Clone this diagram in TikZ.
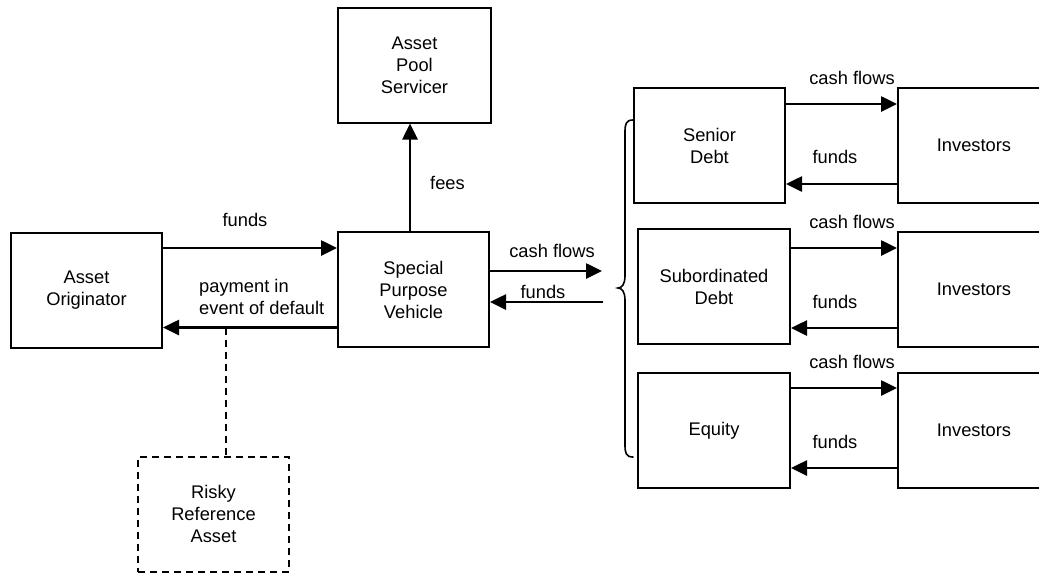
\documentclass[tikz,border=0pt]{standalone}
\usepackage{fontspec}
\setmainfont{Liberation Sans}
\usetikzlibrary{arrows.meta}
\begin{document}
\begin{tikzpicture}[x=1pt,y=-1pt,
  every node/.style={font=\fontsize{18.3}{22}\selectfont},
  box/.style={draw, line width=2pt, minimum width=151pt, minimum height=115pt, align=center, inner sep=0pt},
  dbox/.style={box, dash pattern=on 7pt off 5pt},
  arr/.style={line width=2.6pt, -{Triangle[length=16pt,width=15pt]}},
  lbl/.style={inner sep=0pt, align=center},
  brace/.style={line width=1.6pt, line cap=round}
]
\useasboundingbox (0,0) rectangle (1039,574);

% main boxes
\node[box] (ao)  at (86.5,290)  {Asset\\Originator};
\node[box] (spv) at (413.5,289.5) {Special\\Purpose\\Vehicle};
\node[box, minimum width=153pt] (srv) at (414.5,65) {Asset\\Pool\\Servicer};
\node[dbox] (rra) at (213.5,514) {Risky\\Reference\\Asset};

% tranches
\node[box] (sen) at (709.5,145.5) {Senior\\Debt};
\node[box, minimum width=152pt] (sub) at (714,286.5) {Subordinated\\Debt};
\node[box, minimum width=152pt] (eq)  at (714,430.5) {Equity};

% investors
\node[box, minimum width=152pt] (inv1) at (974,145.5) {Investors};
\node[box, minimum width=152pt] (inv2) at (974,289.5) {Investors};
\node[box, minimum width=152pt] (inv3) at (974,430.5) {Investors};

% originator <-> SPV
\path ([yshift=42pt]ao.east) coordinate (f1);
\draw[arr] (f1) -- (f1 -| spv.west);
\path ([yshift=-38pt]spv.west) coordinate (p1);
\draw[arr] (p1) -- (p1 -| ao.east);
\node[lbl] at (245,220) {funds};
\node[lbl, align=left, anchor=west] at (199,297) {payment in\\event of default};

% reference asset link
\path (p1 -| rra.north) ++(12.5,0) coordinate (d1);
\draw[line width=2pt, dash pattern=on 7pt off 5pt] (d1) -- ([xshift=12.5pt]rra.north);

% fees to servicer
\draw[arr] ([xshift=-3.5pt]spv.north) -- ([xshift=-3.5pt]spv.north |- srv.south);
\node[lbl, anchor=west] at (430,183) {fees};

% SPV <-> tranches
\coordinate (cf) at (602,271);
\coordinate (fd) at (603,302);
\draw[arr] (spv.east |- cf) -- (cf);
\draw[arr] (fd) -- (spv.east |- fd);
\node[lbl] at (552,251) {cash flows};
\node[lbl] at (543,292) {funds};

% brace grouping the tranches
\draw[brace] (633,120) .. controls (626,120) and (625,124) .. (625,132)
  -- (625,276) .. controls (625,284) and (622,288) .. (618,288)
  .. controls (622,288) and (625,292) .. (625,300)
  -- (625,445) .. controls (625,453) and (626,457) .. (633,457);

% tranche <-> investors
\path ([yshift=41.5pt]sen.east) coordinate (s1);
\draw[arr] (s1) -- (s1 -| inv1.west);
\path ([yshift=-38.5pt]inv1.west) coordinate (s2);
\draw[arr] (s2) -- (s2 -| sen.east);
\node[lbl] at (852,78) {cash flows};
\node[lbl] at (835,157) {funds};

\path ([yshift=38.5pt]sub.east) coordinate (u1);
\draw[arr] (u1) -- (u1 -| inv2.west);
\path ([yshift=-41.5pt]sub.east) coordinate (u2);
\draw[arr] (u2 -| inv2.west) -- (u2);
\node[lbl] at (852,222) {cash flows};
\node[lbl] at (835,302) {funds};

\path ([yshift=42.5pt]eq.east) coordinate (e1);
\draw[arr] (e1) -- (e1 -| inv3.west);
\path ([yshift=-37.5pt]eq.east) coordinate (e2);
\draw[arr] (e2 -| inv3.west) -- (e2);
\node[lbl] at (852,362) {cash flows};
\node[lbl] at (835,442) {funds};
\end{tikzpicture}
\end{document}
